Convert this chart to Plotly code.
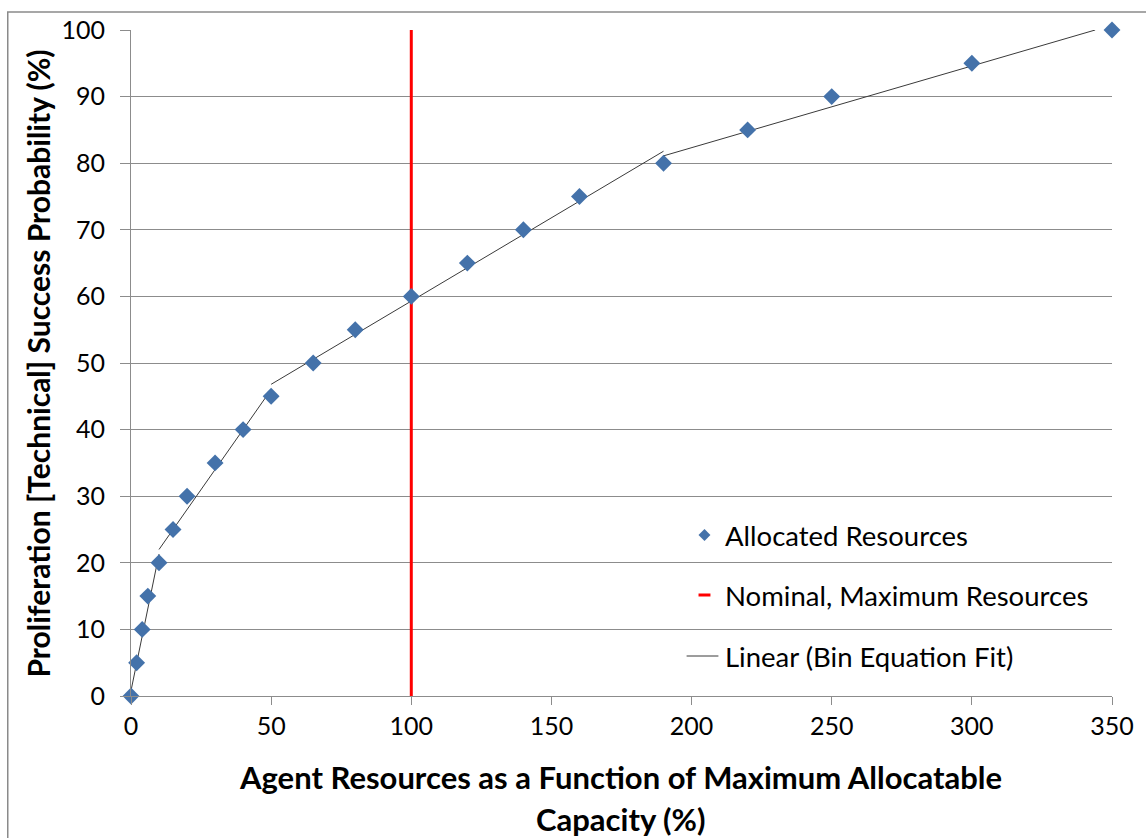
import plotly.graph_objects as go

# ---- data ----
alloc_x = [0, 2, 4, 6, 10, 15, 20, 30, 40, 50, 65, 80, 100, 120, 140, 160, 190, 220, 250, 300, 350]
alloc_y = [0, 5, 10, 15, 20, 25, 30, 35, 40, 45, 50, 55, 60, 65, 70, 75, 80, 85, 90, 95, 100]

nominal_x = [100, 100]
nominal_y = [0, 100]

# piecewise "bin equation" fit segments (None separates segments)
fit_x = [0, 10, None, 10, 50, None, 50, 190, None, 190, 344]
fit_y = [0.8, 21.3, None, 22, 46, None, 46.8, 81.8, None, 81.1, 100]

x_ticks = [0, 50, 100, 150, 200, 250, 300, 350]
y_ticks = [0, 10, 20, 30, 40, 50, 60, 70, 80, 90, 100]

legend_labels = ["Allocated Resources", "Nominal, Maximum Resources", "Linear (Bin Equation Fit)"]

# ---- layout geometry (pixels) ----
W, H = 1146, 838
L, R, T, B = 131, 1118, 30, 696
PW, PH = R - L, B - T

def px(xp):
    return (xp - L) / PW

def py(yp):
    return (B - yp) / PH

FONT = "Lato, 'Open Sans', sans-serif"
BLUE = "#4472AA"
GRID = "#8C8C8C"

fig = go.Figure()
fig.add_trace(go.Scatter(x=fit_x, y=fit_y, mode="lines", name=legend_labels[2],
                         line=dict(color="#3A3A3A", width=1), showlegend=False,
                         connectgaps=False))
fig.add_trace(go.Scatter(x=nominal_x, y=nominal_y, mode="lines", name=legend_labels[1],
                         line=dict(color="#FF0000", width=3), showlegend=False))
fig.add_trace(go.Scatter(x=alloc_x, y=alloc_y, mode="markers", name=legend_labels[0],
                         marker=dict(symbol="diamond", size=13, color=BLUE,
                                     line=dict(width=0)), showlegend=False,
                         cliponaxis=False))

shapes = []
annotations = []

# outer chart border
shapes.append(dict(type="rect", xref="paper", yref="paper",
                   x0=px(7), x1=px(1160), y0=py(850), y1=py(12),
                   line=dict(color="#8A8A8A", width=1.5), layer="below"))

# manual legend
leg_y = [535, 595, 656]
d = 6
cx, cy = 708, leg_y[0]
shapes.append(dict(type="path", xref="paper", yref="paper",
                   path=f"M {px(cx - d)} {py(cy)} L {px(cx)} {py(cy - d)} L {px(cx + d)} {py(cy)} L {px(cx)} {py(cy + d)} Z",
                   fillcolor=BLUE, line=dict(width=0)))
shapes.append(dict(type="line", xref="paper", yref="paper",
                   x0=px(702), x1=px(714), y0=py(leg_y[1]), y1=py(leg_y[1]),
                   line=dict(color="#FF0000", width=3)))
shapes.append(dict(type="line", xref="paper", yref="paper",
                   x0=px(690), x1=px(722), y0=py(leg_y[2]), y1=py(leg_y[2]),
                   line=dict(color="#3A3A3A", width=1)))
for lab, yy in zip(legend_labels, leg_y):
    annotations.append(dict(text=lab, xref="paper", yref="paper", x=px(727), y=py(yy),
                            xanchor="left", yanchor="middle", showarrow=False,
                            font=dict(family=FONT, size=27.5, color="black")))

# axis titles
annotations.append(dict(text="<b>Agent Resources as a Function of Maximum Allocatable</b>",
                        xref="paper", yref="paper", x=px(623), y=py(777),
                        xanchor="center", yanchor="middle", showarrow=False,
                        font=dict(family=FONT, size=31, color="black")))
annotations.append(dict(text="<b>Capacity (%)</b>",
                        xref="paper", yref="paper", x=px(623), y=py(819),
                        xanchor="center", yanchor="middle", showarrow=False,
                        font=dict(family=FONT, size=31, color="black")))
annotations.append(dict(text="<b>Proliferation [Technical] Success Probability (%)</b>",
                        xref="paper", yref="paper", x=px(37), y=py(364),
                        xanchor="center", yanchor="middle", showarrow=False, textangle=-90,
                        font=dict(family=FONT, size=30, color="black")))

fig.update_layout(
    width=W, height=H,
    margin=dict(l=L, r=W - R, t=T, b=H - B),
    paper_bgcolor="white", plot_bgcolor="white",
    shapes=shapes, annotations=annotations,
    font=dict(family=FONT, size=25, color="black"),
)
fig.update_xaxes(range=[0, 350], tickvals=x_ticks, showgrid=False, zeroline=False,
                 showline=True, linecolor=GRID, linewidth=1,
                 ticks="outside", ticklen=8, tickcolor=GRID,
                 tickfont=dict(family=FONT, size=25, color="black"))
fig.update_yaxes(range=[0, 100], tickvals=y_ticks, showgrid=True, gridcolor=GRID, gridwidth=1,
                 zeroline=False, showline=True, linecolor=GRID, linewidth=1,
                 ticks="outside", ticklen=10, tickcolor=GRID, ticklabelstandoff=10,
                 tickfont=dict(family=FONT, size=25, color="black"))

fig.write_html("out.html", config={"displayModeBar": False},
               post_script="document.body.style.margin='0';document.body.style.padding='0';")
